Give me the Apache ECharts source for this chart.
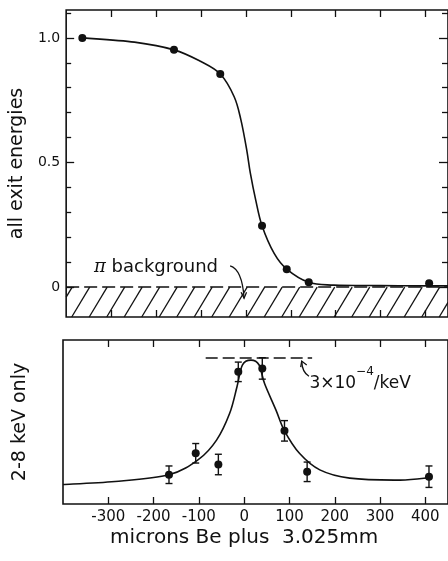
<!doctype html>
<html lang="en">
<head>
	<meta charset="UTF-8">
	<title>microns Be plus 3.025mm</title>
	<style>
		html, body { margin: 0; padding: 0; background: #fff; }
		#main { width: 448px; height: 561px; }
	</style>
	<script src="https://cdn.jsdelivr.net/npm/echarts@6/dist/echarts.min.js"></script>
</head>
<body>
<div id="main"></div>
<script type="text/javascript">
	// upper panel: all exit energies
	var topPtX = [-364, -160, -57, 36, 91, 140, 408];
	var topPtY = [1.0, 0.952, 0.855, 0.246, 0.072, 0.019, 0.015];
	var topCurveX = [-364, -248, -160, -100, -57, -26, -11, 2, 10, 22, 36, 63, 91, 140, 196, 300, 408, 450];
	var topCurveY = [1.0, 0.983, 0.952, 0.905, 0.855, 0.764, 0.671, 0.55, 0.457, 0.349, 0.246, 0.135, 0.072, 0.019, 0.008, 0.006, 0.005, 0.005];

	// lower panel: 2-8 keV only (units of 1e-4/keV)
	var botPtX = [-166, -107, -57, -13, 40, 89, 139, 408];
	var botPtY = [0.60, 1.04, 0.81, 2.71, 2.78, 1.50, 0.66, 0.56];
	var botErr = [0.18, 0.20, 0.21, 0.20, 0.22, 0.21, 0.20, 0.22];
	var botCurveX = [-400, -285, -166, -100, -61, -32, -16, -4, 15, 33, 45, 70, 89, 122, 167, 233, 344, 408];
	var botCurveY = [0.40, 0.46, 0.60, 0.92, 1.31, 1.86, 2.40, 2.85, 2.95, 2.85, 2.47, 1.93, 1.50, 1.04, 0.70, 0.53, 0.49, 0.54];

	// ticks
	var xTicks = [-300, -200, -100, 0, 100, 200, 300, 400];
	var yMajor = [0, 0.5, 1.0];
	var yMajorLabels = ['0', '0.5', '1.0'];
	var yMinor = [0.1, 0.2, 0.3, 0.4, 0.6, 0.7, 0.8, 0.9, 1.1];

	// background level and peak reference
	var bgLevel = 0;
	var peakLevel = 3;
	var peakLineX = [-85, 150];

	var ink = '#111';
	var font = 'DejaVu Sans';

	function zip(a, b) {
		var out = [];
		for (var i = 0; i < a.length; i++) out.push([a[i], b[i]]);
		return out;
	}

	function xAx(grid, pos, showLabel) {
		return {
			type: 'value', gridIndex: grid, position: pos, min: -400, max: 450,
			axisLine: {show: false, onZero: false}, splitLine: {show: false},
			axisTick: {show: true, inside: true, length: 7, customValues: xTicks, lineStyle: {color: ink, width: 1.3}},
			axisLabel: {show: showLabel, customValues: xTicks, margin: 6, color: ink, fontFamily: font, fontSize: 15}
		};
	}

	function yAx(pos, ticks, len, extra) {
		var a = {
			type: 'value', gridIndex: 0, position: pos, min: -0.12, max: 1.112,
			axisLine: {show: false, onZero: false}, splitLine: {show: false},
			axisTick: {show: true, inside: true, length: len, customValues: ticks, lineStyle: {color: ink, width: 1.3}},
			axisLabel: {show: false}
		};
		for (var k in extra) a[k] = extra[k];
		return a;
	}

	// smooth curve through the given points (Catmull-Rom in pixel space)
	function curveSeries(xi, yi, xs, ys) {
		return {
			type: 'custom', xAxisIndex: xi, yAxisIndex: yi, silent: true, clip: true,
			data: zip(xs, ys),
			renderItem: function (params, api) {
				if (params.dataIndex !== 0) return null;
				var p = [];
				for (var i = 0; i < xs.length; i++) p.push(api.coord([xs[i], ys[i]]));
				var d = 'M' + p[0][0] + ' ' + p[0][1];
				for (var j = 0; j < p.length - 1; j++) {
					var p0 = p[Math.max(0, j - 1)], p1 = p[j], p2 = p[j + 1], p3 = p[Math.min(p.length - 1, j + 2)];
					var c1x = p1[0] + (p2[0] - p0[0]) / 6, c1y = p1[1] + (p2[1] - p0[1]) / 6;
					var c2x = p2[0] - (p3[0] - p1[0]) / 6, c2y = p2[1] - (p3[1] - p1[1]) / 6;
					d += ' C' + c1x + ' ' + c1y + ' ' + c2x + ' ' + c2y + ' ' + p2[0] + ' ' + p2[1];
				}
				return {type: 'path', shape: {pathData: d}, style: {stroke: ink, lineWidth: 1.6, fill: null}};
			}
		};
	}

	var chart = echarts.init(document.getElementById('main'));

	var option = {
		backgroundColor: '#fff',
		animation: false,
		textStyle: {fontFamily: font, color: ink},
		grid: [
			{left: 63, top: 10, width: 386, height: 307, show: true, borderColor: ink, borderWidth: 1.6, backgroundColor: 'transparent'},
			{left: 63, top: 340, width: 386, height: 164, show: true, borderColor: ink, borderWidth: 1.6, backgroundColor: 'transparent'}
		],
		xAxis: [
			xAx(0, 'bottom', false),
			xAx(0, 'top', false),
			xAx(1, 'bottom', true),
			xAx(1, 'top', false)
		],
		yAxis: [
			yAx('left', yMajor, 8, {
				axisLabel: {show: true, customValues: yMajor, margin: 6, color: ink, fontFamily: font, fontSize: 14,
					formatter: function (v) { return yMajorLabels[yMajor.indexOf(v)]; }},
				name: 'all exit energies', nameLocation: 'middle', nameGap: 33, nameRotate: 90,
				nameTextStyle: {color: ink, fontFamily: font, fontSize: 19}
			}),
			yAx('left', yMinor, 5, {}),
			yAx('right', yMajor, 9, {}),
			yAx('right', yMinor, 6, {}),
			{
				type: 'value', gridIndex: 1, position: 'left', min: 0, max: 3.363,
				axisLine: {show: false, onZero: false}, splitLine: {show: false}, axisTick: {show: false}, axisLabel: {show: false},
				name: '2-8 keV only', nameLocation: 'middle', nameGap: 33, nameRotate: 90,
				nameTextStyle: {color: ink, fontFamily: font, fontSize: 19}
			}
		],
		series: [
			{
				// hatched pi background region below zero
				type: 'custom', xAxisIndex: 0, yAxisIndex: 0, silent: true, clip: false,
				data: [[-400, -0.12]],
				renderItem: function (params, api) {
					var p0 = api.coord([-400, -0.12]);
					var p1 = api.coord([450, bgLevel]);
					var L = p0[0], B = p0[1], R = p1[0], T = p1[1];
					var dx = (B - T) * 0.6, step = 17.5;
					var kids = [];
					for (var xb = L - dx + 6; xb < R; xb += step) {
						var t0 = Math.max(0, (L - xb) / dx), t1 = Math.min(1, (R - xb) / dx);
						if (t1 <= t0) continue;
						kids.push({
							type: 'line',
							shape: {x1: xb + t0 * dx, y1: B - t0 * (B - T), x2: xb + t1 * dx, y2: B - t1 * (B - T)},
							style: {stroke: ink, lineWidth: 1.3}
						});
					}
					return {type: 'group', children: kids};
				}
			},
			{
				// dashed background level
				type: 'line', xAxisIndex: 0, yAxisIndex: 0, data: [], silent: true,
				markLine: {
					silent: true, symbol: 'none', label: {show: false},
					lineStyle: {color: ink, width: 1.5, type: [13, 5]},
					data: [{yAxis: bgLevel}]
				}
			},
			curveSeries(0, 0, topCurveX, topCurveY),
			{
				type: 'scatter', xAxisIndex: 0, yAxisIndex: 0, data: zip(topPtX, topPtY),
				symbolSize: 8, itemStyle: {color: ink, opacity: 1}
			},
			{
				// dashed peak reference
				type: 'line', xAxisIndex: 2, yAxisIndex: 4, data: [], silent: true,
				markLine: {
					silent: true, symbol: 'none', label: {show: false},
					lineStyle: {color: ink, width: 1.5, type: [12, 5]},
					data: [[{coord: [peakLineX[0], peakLevel]}, {coord: [peakLineX[1], peakLevel]}]]
				}
			},
			curveSeries(2, 4, botCurveX, botCurveY),
			{
				// error bars
				type: 'custom', xAxisIndex: 2, yAxisIndex: 4, silent: true,
				data: botPtX.map(function (x, i) { return [x, botPtY[i] - botErr[i], botPtY[i] + botErr[i]]; }),
				renderItem: function (params, api) {
					var lo = api.coord([api.value(0), api.value(1)]);
					var hi = api.coord([api.value(0), api.value(2)]);
					var w = 3.5;
					var s = {stroke: ink, lineWidth: 1.4};
					return {type: 'group', children: [
						{type: 'line', shape: {x1: lo[0], y1: lo[1], x2: hi[0], y2: hi[1]}, style: s},
						{type: 'line', shape: {x1: lo[0] - w, y1: lo[1], x2: lo[0] + w, y2: lo[1]}, style: s},
						{type: 'line', shape: {x1: hi[0] - w, y1: hi[1], x2: hi[0] + w, y2: hi[1]}, style: s}
					]};
				}
			},
			{
				type: 'scatter', xAxisIndex: 2, yAxisIndex: 4, data: zip(botPtX, botPtY),
				symbolSize: 8, itemStyle: {color: ink, opacity: 1}
			}
		]
	};

	chart.setOption(option);

	// annotations, placed through the axes
	function px0(p) { return chart.convertToPixel({xAxisIndex: 0, yAxisIndex: 0}, p); }
	function px1(p) { return chart.convertToPixel({xAxisIndex: 2, yAxisIndex: 4}, p); }

	var piText = px0([-338, 0.08]);
	var piA = px0([-35, 0.085]), piC = px0([-8, 0.07]), piB = px0([-4, -0.045]);
	var keText = px1([144, 2.56]);
	var keA = px1([127, 2.93]), keC = px1([128, 2.7]), keB = px1([143, 2.62]);
	var zeroX = px1([0, 0]);

	chart.setOption({
		graphic: [
			{
				type: 'text', x: piText[0], y: piText[1], silent: true,
				style: {text: '{pi|π} background', fill: ink, verticalAlign: 'middle', font: '18px "DejaVu Sans"',
					rich: {pi: {fontStyle: 'italic', fontSize: 18, fontFamily: 'DejaVu Serif'}}}
			},
			{
				type: 'bezierCurve', silent: true,
				shape: {x1: piA[0], y1: piA[1], cpx1: piC[0], cpy1: piC[1], x2: piB[0], y2: piB[1]},
				style: {stroke: ink, lineWidth: 1.3, fill: null}
			},
			{
				type: 'polyline', silent: true,
				shape: {points: [[piB[0] - 3, piB[1] - 6], [piB[0], piB[1]], [piB[0] + 2.5, piB[1] - 6]]},
				style: {stroke: ink, lineWidth: 1.3, fill: null}
			},
			{
				type: 'text', x: keText[0], y: keText[1], silent: true,
				style: {text: '{b|3×10}{s|−4}{b|/keV}', fill: ink, verticalAlign: 'middle',
					rich: {
						b: {fontSize: 17, fontFamily: font, lineHeight: 26, verticalAlign: 'bottom', fill: ink},
						s: {fontSize: 12, fontFamily: font, lineHeight: 26, verticalAlign: 'top', fill: ink}
					}}
			},
			{
				type: 'bezierCurve', silent: true,
				shape: {x1: keA[0], y1: keA[1], cpx1: keC[0], cpy1: keC[1], x2: keB[0], y2: keB[1]},
				style: {stroke: ink, lineWidth: 1.3, fill: null}
			},
			{
				type: 'polyline', silent: true,
				shape: {points: [[keA[0] - 1, keA[1] + 6], [keA[0], keA[1]], [keA[0] + 5, keA[1] + 4]]},
				style: {stroke: ink, lineWidth: 1.3, fill: null}
			},
			{
				type: 'text', x: zeroX[0], y: 538, silent: true,
				style: {text: 'microns Be plus  3.025mm', fill: ink, align: 'center', verticalAlign: 'middle',
					font: '20px "DejaVu Sans"'}
			}
		]
	});
</script>
</body>
</html>
